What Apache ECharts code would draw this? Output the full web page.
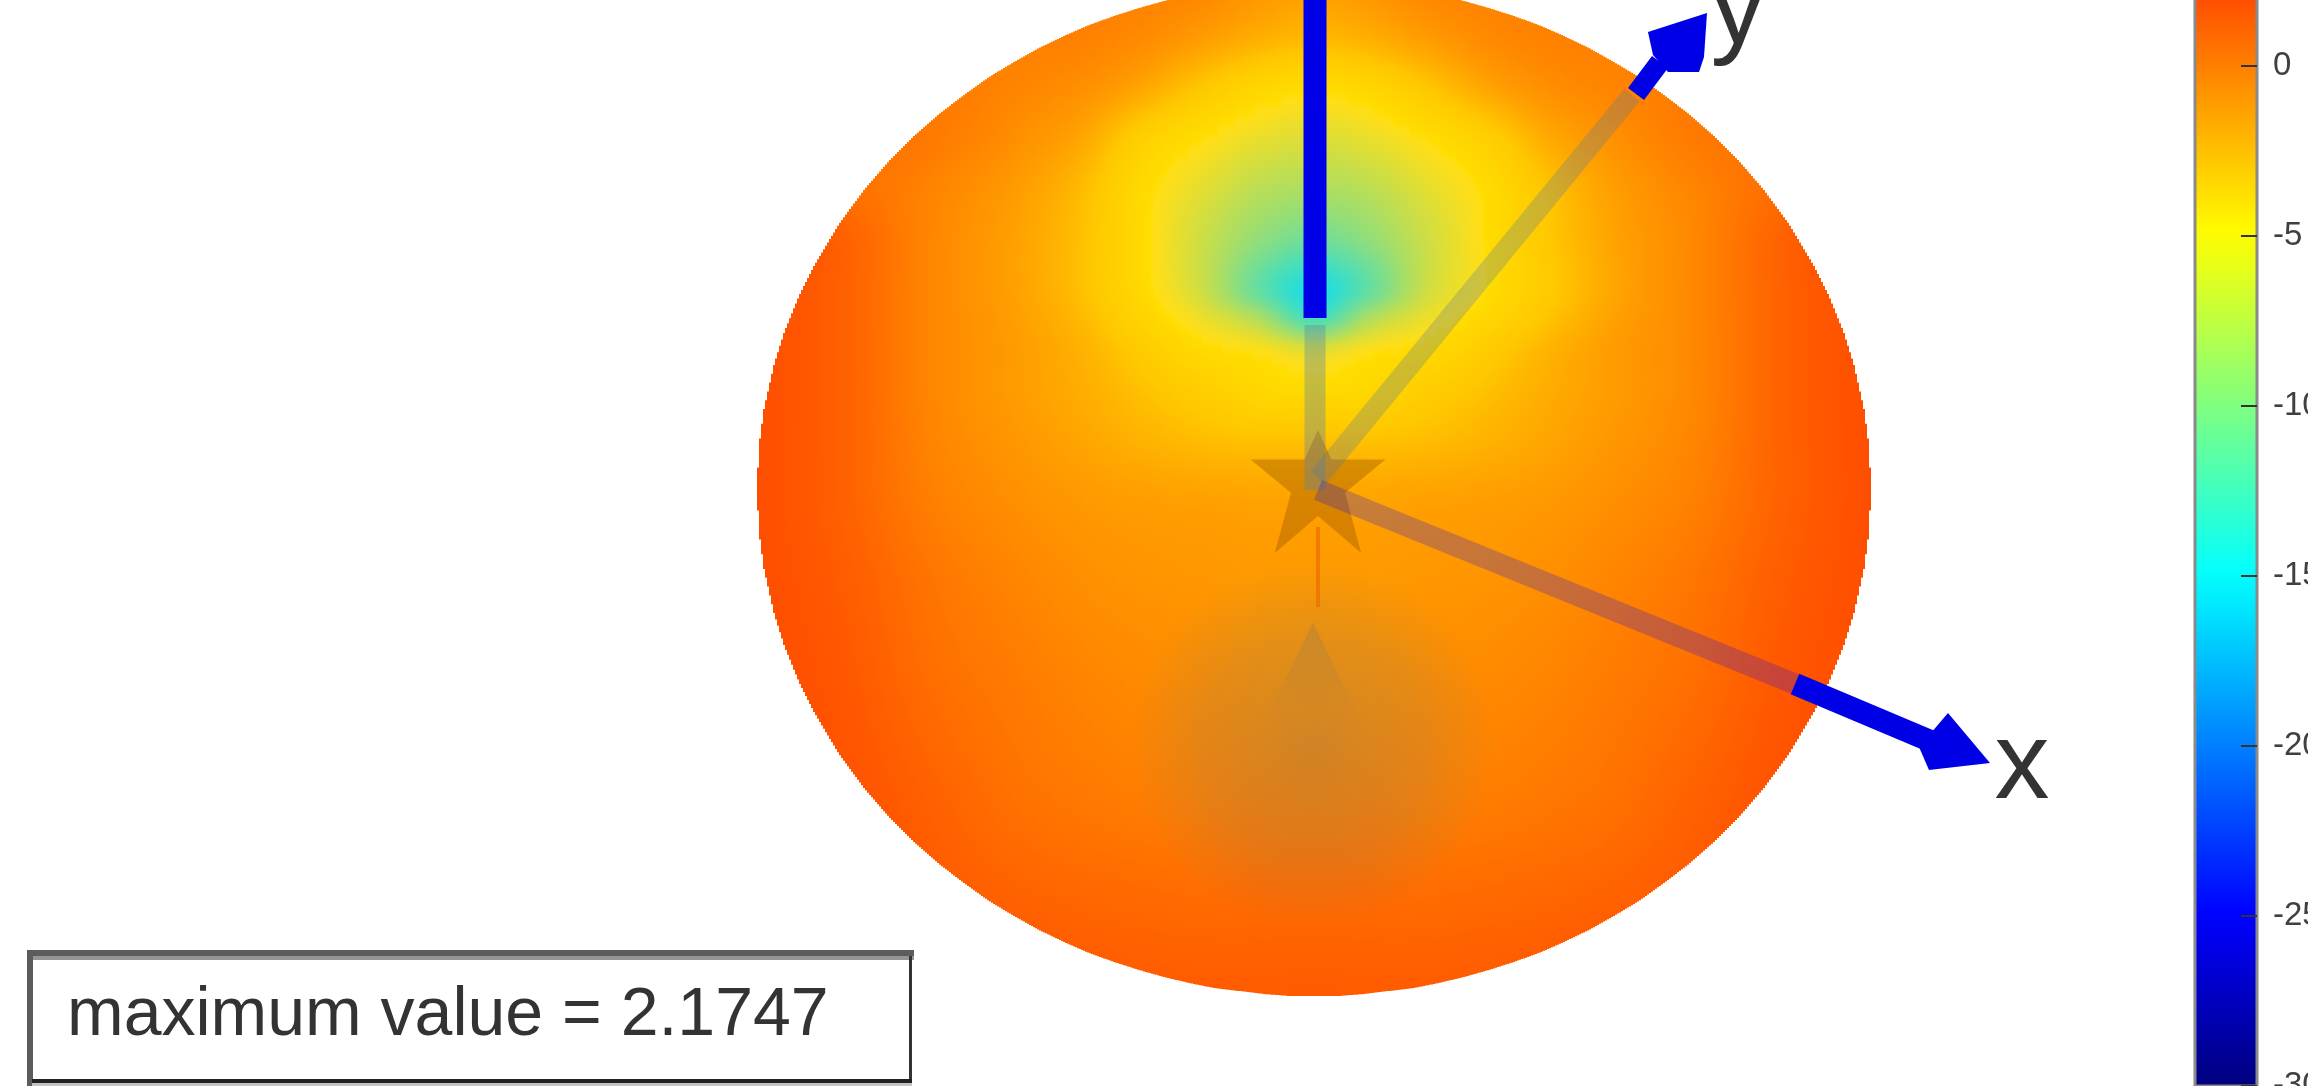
<!DOCTYPE html>
<html>
<head>
<meta charset="utf-8">
<title>radiation pattern</title>
<style>
html,body{margin:0;padding:0;background:#fff;overflow:hidden;}
#chart{width:2308px;height:1086px;}
</style>
<script src="https://cdn.jsdelivr.net/npm/echarts@6/dist/echarts.min.js"></script>
</head>
<body>
<div id="chart"></div>
<script>
//---colour scale of the surface, dB
var scaleMin = -30, scaleMax = 10;
var jetStops = [[0,[0,0,127]],[0.125,[0,0,255]],[0.375,[0,255,255]],[0.625,[255,255,0]],[0.875,[255,0,0]],[1,[127,0,0]]];
var barMin = -30, barMax = 2.1747;

//---surface: dB at each node (rows = patternY, columns = patternX)
var patternX = [754,844,934,1014,1084,1144,1204,1259,1314,1369,1424,1484,1544,1614,1694,1784,1874];
var patternY = [-20,40,90,140,190,240,290,320,350,390,440,500,580,680,800,900,1000];
var patternDb = [
    [0,0,0,0,0,0,-0.1,-0.7,-1,-0.7,-0.1,0,0,0,0,0,0],
    [0,0,0,0,-0.1,-0.5,-1.2,-1.9,-2.3,-1.9,-1.2,-0.5,-0.1,0,0,0,0],
    [0.2,0.2,0.2,-0.2,-0.7,-1.6,-3,-4.2,-4.8,-4.2,-3,-1.6,-0.7,-0.2,0.2,0.2,0.2],
    [0.6,0.6,0.2,-0.6,-1.6,-3.6,-5,-6.2,-6.8,-6.2,-5,-3.6,-1.8,-0.7,0.2,0.6,0.6],
    [1.2,0.7,-0.2,-1.1,-2.4,-4.6,-6.5,-8.2,-8.8,-8.2,-6.5,-4.8,-2.8,-1.2,-0.2,0.8,1.2],
    [2,1.2,-0.3,-1.3,-2.6,-4.7,-7.5,-10,-11.5,-10,-7.5,-5,-3,-1.4,-0.3,1.2,2],
    [2,1.2,-0.3,-1.3,-2.6,-4.6,-7.5,-12,-15,-12,-7.5,-5,-3.2,-1.5,-0.3,1.2,2],
    [2,1.2,-0.3,-1.2,-2.3,-4,-6,-8.5,-13,-8.5,-6,-4.2,-2.7,-1.3,-0.3,1.2,2],
    [2,1.2,-0.3,-1.1,-2,-3.2,-4.6,-5.3,-6.5,-5.3,-4.6,-3.3,-2.1,-1.1,-0.3,1.2,2],
    [2,1.2,-0.3,-1.1,-1.8,-2.6,-3.4,-4.3,-4.6,-4.3,-3.4,-2.6,-1.8,-1.1,-0.3,1.2,2],
    [2,1.2,-0.2,-0.9,-1.5,-2,-2.4,-2.6,-2.6,-2.6,-2.4,-2,-1.5,-0.9,-0.2,1.2,2],
    [2,1.2,0,-0.6,-1,-1.2,-1.3,-1.4,-1.4,-1.4,-1.3,-1.2,-1,-0.6,0,1.2,2],
    [2,1.4,0.4,-0.2,-0.6,-0.8,-0.9,-1,-1,-1,-0.9,-0.8,-0.6,-0.2,0.4,1.4,2],
    [2,1.6,0.7,0.2,-0.2,-0.4,-0.5,-0.6,-0.6,-0.6,-0.5,-0.4,-0.2,0.2,0.7,1.6,2],
    [2,1.8,1.2,0.6,0.3,0.1,0,0,0,0,0,0.1,0.3,0.6,1.2,1.8,2],
    [2,2,1.5,1.2,1,0.9,0.8,0.8,0.8,0.8,0.8,0.9,1,1.2,1.5,2,2],
    [2,2,2,1.8,1.6,1.5,1.5,1.5,1.5,1.5,1.5,1.5,1.6,1.8,2,2,2]
];

//---outline of the surface
var rimX = [757,759,764,774,784,799,814,839,864,889,914,939,964,989,1014,1039,1064,1089,1114,1139,1164,1189,1214,1239,1264,1289,1314,
    1339,1364,1389,1414,1439,1464,1489,1514,1539,1564,1589,1614,1639,1664,1689,1714,1739,1764,1789,1814,1829,1844,1854,1864,1869,1871];
var rimTop = [489,446,409,365,333,296,266,224,190,161,136,114,95,77,62,48,36,25,16,8,1,-5,-10,-13,-16,-18,-18,
    -18,-16,-13,-10,-5,1,8,16,25,36,48,62,77,95,114,136,161,190,224,266,296,333,365,409,446,489];
var rimBottom = [489,532,569,613,645,682,712,754,788,817,842,864,883,901,916,930,942,953,962,970,977,983,988,991,994,996,996,
    996,994,991,988,983,977,970,962,953,942,930,916,901,883,864,842,817,788,754,712,682,645,613,569,532,489];

//---axes arrows, star
var zAxisInner = [[1315,325],[1315,490]];
var zAxisOuter = [[1315,318],[1315,0]];
var yAxisInner = [[1318,478],[1632,95]];
var yAxisOuter = [[1636,94],[1660,62]];
var xAxisInner = [[1318,490],[1795,684]];
var xAxisOuter = [[1795,684],[1935,743]];
var yHead = [[1648,32],[1707,13],[1704,57],[1699,72],[1668,72],[1653,55]];
var xHead = [[1948,713],[1990,763],[1929,770],[1919,747]];
var originStar = [[1318,491.5]];
var feedLine = [[1318,527],[1318,607]];
var axisLabels = [[2022,768,'x'],[1738,13,'y']];
//---back dip seen through the surface
var backDipCentre = [1313,745,185];
var backDipTip = [[1313,623],[1268,715],[1358,715]];

var barTicks = {min:barMin,max:barMax,interval:5};
var noteText = 'maximum value = 2.1747';

function jet(v){
    var t = Math.max(0,Math.min(1,(v - scaleMin) / (scaleMax - scaleMin)));
    for(var i = 1;i < jetStops.length;i++){
        if(t <= jetStops[i][0]){
            var a = jetStops[i - 1],b = jetStops[i];
            var k = (t - a[0]) / (b[0] - a[0]);
            return [0,1,2].map(function(c){
                return a[1][c] + (b[1][c] - a[1][c]) * k;
            });
        }
    }
    return jetStops[jetStops.length - 1][1];
}
function css(c){
    return 'rgb(' + Math.round(c[0]) + ',' + Math.round(c[1]) + ',' + Math.round(c[2]) + ')';
}
function lit(c){//---the surface is lit and a bit see-through, so it never gets as pure as the colorbar
    return [
        Math.min(255,30 + c[0] * 0.9),
        c[1] <= 200 ? c[1] : 200 + (c[1] - 200) * 0.4,
        c[2] * 0.8 + 20 * (c[2] > 0 ? 1 : 0)
    ];
}
function segment(list,v){
    var i = 0;
    while(i < list.length - 2 && v > list[i + 1]){i++;}
    return i;
}
function along(xs,vals,x){//---straight between rim points
    var i = segment(xs,x);
    return vals[i] + (vals[i + 1] - vals[i]) * Math.max(0,Math.min(1,(x - xs[i]) / (xs[i + 1] - xs[i])));
}
function smooth(xs,vals,x){//---interp shading between nodes
    var i = segment(xs,x);
    var i0 = Math.max(0,i - 1),i3 = Math.min(xs.length - 1,i + 2);
    var h = xs[i + 1] - xs[i];
    var t = Math.max(0,Math.min(1,(x - xs[i]) / h));
    var m0 = (vals[i + 1] - vals[i0]) / (xs[i + 1] - xs[i0]) * h;
    var m1 = (vals[i3] - vals[i]) / (xs[i3] - xs[i]) * h;
    var t2 = t * t,t3 = t2 * t;
    return (2 * t3 - 3 * t2 + 1) * vals[i] + (t3 - 2 * t2 + t) * m0 + (3 * t2 - 2 * t3) * vals[i + 1] + (t3 - t2) * m1;
}
function shadeColumn(x){
    return patternDb.map(function(row){return smooth(patternX,row,x);});
}

var strips = [];
for(var sx = rimX[0];sx < rimX[rimX.length - 1];sx += 2){
    strips.push([sx]);
}

function renderStrip(params,api){
    var x = api.value(0);
    var top = along(rimX,rimTop,x + 1),bottom = along(rimX,rimBottom,x + 1);
    var column = shadeColumn(x + 1);
    var colorStops = [];
    for(var n = 0;n <= 120;n++){
        var y = top + (bottom - top) * n / 120;
        colorStops.push({offset:n / 120,color:css(lit(jet(smooth(patternY,column,y))))});
    }
    var p0 = api.coord([x,top]),p1 = api.coord([x + 2,bottom]);
    return {
        type:'rect',
        shape:{x:p0[0],y:p0[1],width:p1[0] - p0[0],height:p1[1] - p0[1]},
        style:{fill:new echarts.graphic.LinearGradient(0,0,0,1,colorStops)},
        silent:true
    };
}
function renderBackDip(params,api){
    var c = api.coord(backDipCentre);
    var r = api.size([backDipCentre[2],0])[0];
    var tip = backDipTip.map(function(p){return api.coord(p);});
    return {
        type:'group',
        children:[{
            type:'circle',
            shape:{cx:c[0],cy:c[1],r:r},
            style:{fill:new echarts.graphic.RadialGradient(0.5,0.5,0.5,[
                {offset:0,color:'rgba(70,120,150,0.25)'},
                {offset:0.6,color:'rgba(70,120,150,0.14)'},
                {offset:1,color:'rgba(70,120,150,0)'}
            ])}
        },{
            type:'polygon',
            shape:{points:tip},
            style:{fill:new echarts.graphic.LinearGradient(0,0,0,1,[
                {offset:0,color:'rgba(100,110,120,0.22)'},
                {offset:1,color:'rgba(100,110,120,0)'}
            ])}
        }]
    };
}
function renderHead(points){
    return function(params,api){
        return {
            type:'polygon',
            shape:{points:points.map(function(p){return api.coord(p);})},
            style:{fill:'#0000e6'}
        };
    };
}
function shaft(data,color,width,z){
    return {
        type:'line',data:data,xAxisIndex:0,yAxisIndex:0,
        symbol:'none',silent:true,z:z,
        lineStyle:{color:color,width:width,cap:'butt'}
    };
}

var myChart = echarts.init(document.getElementById('chart'),null,{renderer:'canvas'});
var option = {
    animation:false,
    backgroundColor:'#fff',
    grid:[
        {left:0,top:0,width:2308,height:1086,show:false,outerBoundsMode:'none'},
        {left:2195,width:62,top:-8.1,height:1094.1,show:true,outerBoundsMode:'none',borderColor:'#8a8a8a',borderWidth:3,backgroundColor:'transparent',z:5}
    ],
    xAxis:[
        {type:'value',gridIndex:0,min:0,max:2308,show:false},
        {type:'value',gridIndex:1,min:0,max:1,show:false}
    ],
    yAxis:[
        {type:'value',gridIndex:0,min:0,max:1086,inverse:true,show:false},
        {
            type:'value',gridIndex:1,position:'right',z:10,
            min:barTicks.min,max:barTicks.max,interval:barTicks.interval,
            splitLine:{show:false},
            axisLine:{show:false,onZero:false},
            axisTick:{show:true,inside:true,length:16,lineStyle:{color:'#333',width:2}},
            axisLabel:{show:true,margin:16,showMaxLabel:false,hideOverlap:false,color:'#404040',fontFamily:'Liberation Sans',fontSize:33}
        }
    ],
    series:[
        {
            type:'custom',coordinateSystem:'cartesian2d',data:strips,
            encode:{x:0},clip:false,silent:true,z:1,
            renderItem:renderStrip
        },
        {
            type:'custom',coordinateSystem:'cartesian2d',data:[[0]],
            silent:true,z:2,renderItem:renderBackDip
        },
        {
            type:'scatter',data:originStar,silent:true,z:2,
            symbol:'path://M50 0 L60 24 L100 24 L70 51 L82 100 L50 70 L18 100 L30 51 L0 24 L40 24 Z',
            symbolSize:[135,123],
            itemStyle:{color:'rgba(160,90,0,0.42)',opacity:1}
        },
        shaft(feedLine,'rgba(235,110,0,0.7)',4,3),
        shaft(zAxisInner,'rgba(90,130,170,0.36)',21,3),
        shaft(yAxisInner,'rgba(80,120,160,0.28)',20,3),
        shaft(xAxisInner,'rgba(0,0,255,0.22)',21,3),
        shaft(zAxisOuter,'#0000e6',23,4),
        shaft(yAxisOuter,'#0000e6',20,4),
        shaft(xAxisOuter,'#0000e6',22,4),
        {type:'custom',coordinateSystem:'cartesian2d',data:[[0]],silent:true,z:4,renderItem:renderHead(yHead)},
        {type:'custom',coordinateSystem:'cartesian2d',data:[[0]],silent:true,z:4,renderItem:renderHead(xHead)},
        {
            type:'scatter',data:axisLabels,silent:true,z:6,
            symbolSize:0,itemStyle:{opacity:1},
            label:{
                show:true,position:'inside',
                formatter:function(p){return p.value[2];},
                color:'#333',fontFamily:'Liberation Sans',fontSize:110
            }
        },
        {
            type:'custom',coordinateSystem:'cartesian2d',xAxisIndex:1,yAxisIndex:1,
            data:[[0,barMin,1,barMax]],silent:true,z:3,clip:false,
            renderItem:function(params,api){
                var p0 = api.coord([api.value(0),api.value(3)]);
                var p1 = api.coord([api.value(2),api.value(1)]);
                var stops = [];
                for(var v = barMax;v >= barMin;v -= 1){
                    stops.push({offset:(barMax - v) / (barMax - barMin),color:css(jet(v))});
                }
                stops.push({offset:1,color:css(jet(barMin))});
                return {
                    type:'rect',
                    shape:{x:p0[0],y:p0[1],width:p1[0] - p0[0],height:p1[1] - p0[1]},
                    style:{fill:new echarts.graphic.LinearGradient(0,0,0,1,stops)}
                };
            }
        }
    ],
    graphic:[
        {type:'rect',z:10,shape:{x:29,y:952,width:885,height:131},style:{fill:'#fff',stroke:null}},
        {type:'rect',z:11,shape:{x:27,y:950,width:887,height:6},style:{fill:'#5c5c5c'}},
        {type:'rect',z:11,shape:{x:32,y:956,width:882,height:4},style:{fill:'#959595'}},
        {type:'rect',z:11,shape:{x:27,y:950,width:6,height:136},style:{fill:'#5c5c5c'}},
        {type:'rect',z:11,shape:{x:909,y:956,width:3,height:124},style:{fill:'#333'}},
        {type:'rect',z:11,shape:{x:32,y:1079,width:880,height:4},style:{fill:'#222'}},
        {type:'rect',z:11,shape:{x:32,y:1083,width:880,height:3},style:{fill:'#c4c4c4'}},
        {type:'text',z:12,x:67,y:1050,style:{text:noteText,fontFamily:'Liberation Sans',fontSize:68,fill:'#333',verticalAlign:'bottom'}}
    ]
};
myChart.setOption(option);
</script>
</body>
</html>
